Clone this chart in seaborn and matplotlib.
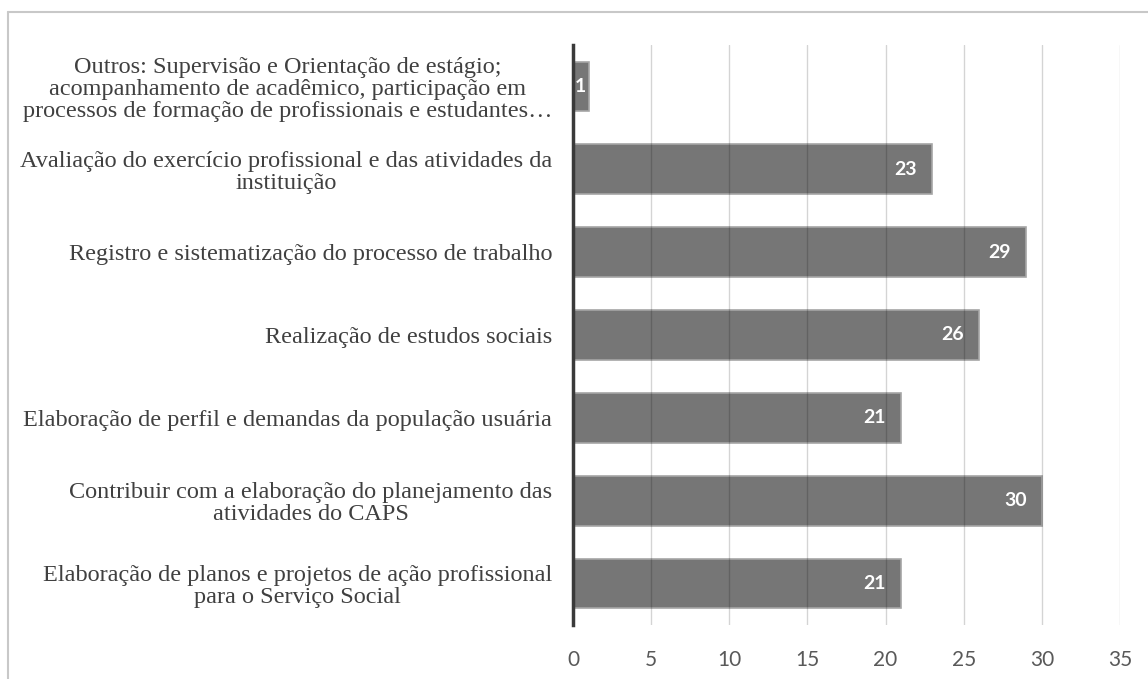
import matplotlib
matplotlib.use("Agg")
import matplotlib.pyplot as plt
import seaborn as sns
import pandas as pd
from matplotlib.lines import Line2D

# categories top to bottom, as in the chart
categories = [
    "Outros: Supervisão e Orientação de estágio;\nacompanhamento de acadêmico, participação em\nprocessos de formação de profissionais e estudantes\u2026",
    "Avaliação do exercício profissional e das atividades da\ninstituição",
    "Registro e sistematização do processo de trabalho",
    "Realização de estudos sociais",
    "Elaboração de perfil e demandas da população usuária",
    "Contribuir com a elaboração do planejamento das\natividades do CAPS",
    "Elaboração de planos e projetos de ação profissional\npara o Serviço Social",
]
values = [1, 23, 29, 26, 21, 30, 21]
x_ticks = [0, 5, 10, 15, 20, 25, 30, 35]

df = pd.DataFrame({"atividade": categories, "n": values})

sns.set_theme(style="white")
plt.rcParams["font.family"] = ["Lato", "DejaVu Sans"]

fig = plt.figure(figsize=(11.48, 6.79), dpi=100)
ax = fig.add_axes([573 / 1148, 1 - 625 / 679, (1120 - 573) / 1148, (625 - 45) / 679])

sns.barplot(data=df, x="n", y="atividade", orient="h", color="#767676",
            saturation=1, width=0.6, edgecolor="#a6a6a6", linewidth=1.2, ax=ax, zorder=2)

ax.set_xlim(0, 35)
ax.set_xticks(x_ticks)
ax.set_xlabel("")
ax.set_ylabel("")
ax.grid(axis="x", color="black", alpha=0.17, linewidth=1)
ax.set_axisbelow(False)
ax.grid(axis="y", visible=False)
for s in ["top", "right", "bottom"]:
    ax.spines[s].set_visible(False)
ax.spines["left"].set_color("#3a3a3a")
ax.spines["left"].set_linewidth(2.5)
ax.spines["left"].set_zorder(5)

ax.tick_params(axis="x", length=0, pad=18, labelsize=15, labelcolor="#595959")
ax.tick_params(axis="y", length=0, pad=15)
for lab in ax.get_yticklabels():
    lab.set_fontfamily(["Liberation Serif", "DejaVu Serif"])
    lab.set_fontsize(17.5)
    lab.set_color("#404040")
    lab.set_multialignment("center")
    lab.set_linespacing(1.05)

# value labels inside the bar ends
for p, v in zip(ax.patches, values):
    yc = p.get_y() + p.get_height() / 2
    if v < 3:
        ax.text(p.get_x() + p.get_width() / 2, yc, str(v), ha="center", va="center",
                color="white", fontsize=14, fontweight="bold", zorder=6)
    else:
        ax.annotate(str(v), (p.get_width(), yc), xytext=(-11, 0), textcoords="offset points",
                    ha="right", va="center", color="white", fontsize=14, fontweight="bold", zorder=6)

# outer frame lines (left and top)
fig.add_artist(Line2D([8 / 1148, 8 / 1148], [0, 1 - 12 / 679], transform=fig.transFigure,
                      color="#c8c8c8", linewidth=1.5))
fig.add_artist(Line2D([8 / 1148, 1], [1 - 12 / 679, 1 - 12 / 679], transform=fig.transFigure,
                      color="#c8c8c8", linewidth=1.5))

fig.savefig("out.png", dpi=100)
